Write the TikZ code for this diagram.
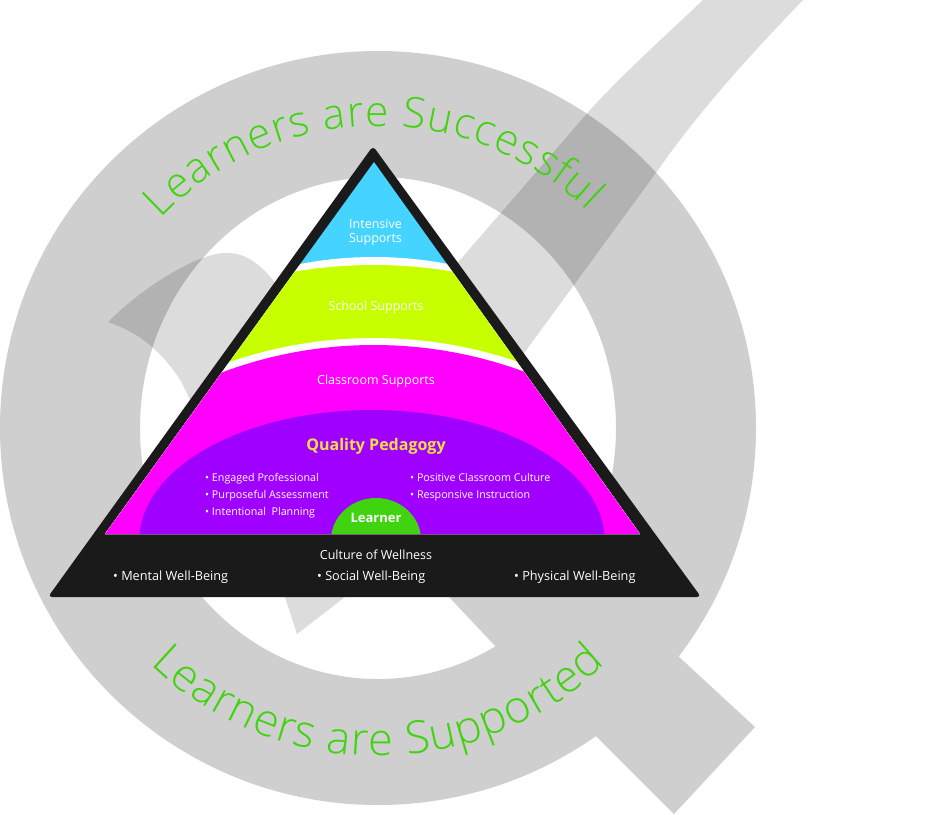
\documentclass[tikz,border=0pt]{standalone}
\usepackage{fontspec}
\setmainfont{Open Sans}
\newfontfamily\lightf{Open Sans Light}
\usetikzlibrary{decorations.text}
\definecolor{ringc}{HTML}{CFCFCF}
\definecolor{tickc}{HTML}{DCDCDC}
\definecolor{blk}{HTML}{1A1A1A}
\definecolor{cyanc}{HTML}{45D4FF}
\definecolor{limec}{HTML}{C8FF00}
\definecolor{magc}{HTML}{FF00FF}
\definecolor{purc}{HTML}{A000FF}
\definecolor{grn}{HTML}{3FD40F}
\definecolor{yel}{HTML}{F0E040}
\tikzset{
  lab/.style={text=white,font=\fontsize{12.5}{14}\selectfont,inner sep=0pt,anchor=base},
  labl/.style={text=white,font=\fontsize{12.7}{14}\selectfont,inner sep=0pt,anchor=base west},
  small/.style={text=white,font=\fontsize{10.7}{12}\selectfont,inner sep=0pt,anchor=base west},
  arctext/.style={decorate,decoration={text along path,text align={fit to path},text color=grn,text={#1}}}
}
\begin{document}
\begin{tikzpicture}[x=1pt,y=-1pt]
\fill[white] (0,0) rectangle (950,814);
\useasboundingbox (0,0) rectangle (950,814);
% Q
\fill[ringc,even odd rule] (378,428) ellipse [x radius=378,y radius=377] (378,428) ellipse [x radius=238,y radius=251];
\fill[ringc] (420,566) -- (497,648) -- (596,736) -- (674,814) -- (755,727) -- (677,655) -- (540,530) -- cycle;
% tick
\begin{scope}[blend mode=multiply]
\fill[tickc] (703,0) .. controls (665,36) and (625,72) .. (590,110) -- (460,260) -- (345,400)
  -- (273,280) .. controls (258,262) and (244,253) .. (227,253) .. controls (200,252) and (145,285) .. (108,322)
  .. controls (125,328) and (140,336) .. (152,347) .. controls (165,358) and (175,372) .. (181,381)
  -- (285,597) -- (297,634) -- (345,597) -- (563,300) -- (658,170) .. controls (700,110) and (750,55) .. (803,0) -- cycle;
\end{scope}
% pyramid
\fill[blk,rounded corners=4pt] (373,146) -- (701,597) -- (48,597) -- cycle;
\begin{scope}
\clip (374,162) -- (640,534) -- (105,534) -- cycle;
\fill[cyanc] (0,100) rectangle (800,600);
\fill[white] (374,647) circle [radius=390];
\fill[limec] (374,733) circle [radius=468];
\fill[white] (374,782) circle [radius=444];
\fill[magc] (374,779) circle [radius=434];
\fill[purc] (372,540) ellipse [x radius=232.5,y radius=130];
\fill[grn] (376,540) ellipse [x radius=45,y radius=42];
\end{scope}
% labels
\node[lab] (n1) at (375.5,228) {Intensive};
\node[lab] (n2) at (375.5,242) {Supports};
\node[lab] (n3) at (376,310) {School Supports};
\node[lab] (n4) at (376,384.5) {Classroom Supports};
\node[lab,text=yel,font=\fontsize{16}{18}\bfseries\selectfont] (n5) at (376,450) {Quality Pedagogy};
\node[small] (a1) at (205,481) {• Engaged Professional};
\node[small] (a2) at (205,498) {• Purposeful Assessment};
\node[small] (a3) at (205,515) {• Intentional\ \ Planning};
\node[small] (b1) at (410,481) {• Positive Classroom Culture};
\node[small] (b2) at (410,498) {• Responsive Instruction};
\node[lab,font=\fontsize{13}{15}\bfseries\selectfont] (n6) at (376,522) {Learner};
\node[lab] (n7) at (376,559) {Culture of Wellness};
\node[labl] (c1) at (113,580) {• Mental Well-Being};
\node[labl] (c2) at (317,580) {• Social Well-Being};
\node[labl] (c3) at (514,580) {• Physical Well-Being};
% curved text
\path[arctext={|\fontsize{42.5}{46}\lightf|Learners are Successful}]
  plot[domain=224:314,samples=80] ({378+302*cos(\x)},{428+302*sin(\x)});
\path[arctext={|\fontsize{45}{50}\lightf|Learners are Supported}]
  plot[domain=134:46,samples=80] ({378+328*cos(\x)},{428+328*sin(\x)});
\end{tikzpicture}
\end{document}
